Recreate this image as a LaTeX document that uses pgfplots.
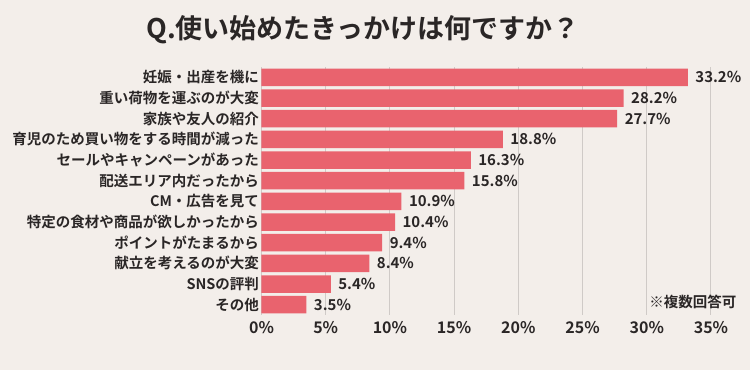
\documentclass[border=0pt]{standalone}
\usepackage{pgfplots}
\pgfplotsset{compat=1.18}
\usepackage{fontspec}
\setmainfont{Noto Sans CJK JP}[BoldFont={Noto Sans CJK JP Bold}]
\definecolor{bg}{HTML}{F3EEEA}
\definecolor{barc}{HTML}{E9636E}
\definecolor{ink}{HTML}{2A2626}
\definecolor{gridc}{HTML}{CFCAC7}
\pgfkeys{/pgf/number format/assume math mode=true}
\begin{document}
\begin{tikzpicture}
\path[use as bounding box, fill=bg] (0,0) rectangle (750pt,370pt);
\node[font=\fontsize{27}{32}\selectfont\bfseries, text=ink] at (363pt,340pt) {Q.使い始めたきっかけは何ですか？};
\begin{axis}[
  at={(261.5pt,55pt)}, anchor=south west,
  width=449.5pt, height=248pt, scale only axis,
  xmin=0, xmax=35, ymin=-0.5, ymax=11.5, y dir=reverse,
  xbar, bar width=17.5pt, bar shift=0pt,
  axis line style={draw=none}, major tick length=0pt,
  /pgf/number format/assume math mode=true,
  xtick={0,5,...,35}, xticklabel={\pgfmathprintnumber{\tick}\%},
  ytick={0,...,11},
  yticklabels={妊娠・出産を機に,重い荷物を運ぶのが大変,家族や友人の紹介,育児のため買い物をする時間が減った,セールやキャンペーンがあった,配送エリア内だったから,CM・広告を見て,特定の食材や商品が欲しかったから,ポイントがたまるから,献立を考えるのが大変,SNSの評判,その他},
  yticklabel style={font=\fontsize{14.5}{17}\selectfont\bfseries, text=ink, xshift=1pt},
  xticklabel style={font=\fontsize{16}{19}\selectfont\bfseries, text=ink, yshift=-3pt},
  xmajorgrids, grid style={gridc, line width=1pt},
  point meta=x,
  nodes near coords={\pgfmathprintnumber[fixed,fixed zerofill,precision=1,assume math mode=true]{\pgfplotspointmeta}\%},
  nodes near coords style={anchor=west, xshift=4pt, font=\fontsize{15}{18}\selectfont\bfseries, text=ink},
]
\addplot[fill=barc, draw=none] coordinates {
  (33.2,0) (28.2,1) (27.7,2) (18.8,3) (16.3,4) (15.8,5)
  (10.9,6) (10.4,7) (9.4,8) (8.4,9) (5.4,10) (3.5,11)
};
\end{axis}
\node[anchor=east, font=\fontsize{14.5}{17}\selectfont\bfseries, text=ink] at (740pt,68pt) {※複数回答可};
\end{tikzpicture}
\end{document}
